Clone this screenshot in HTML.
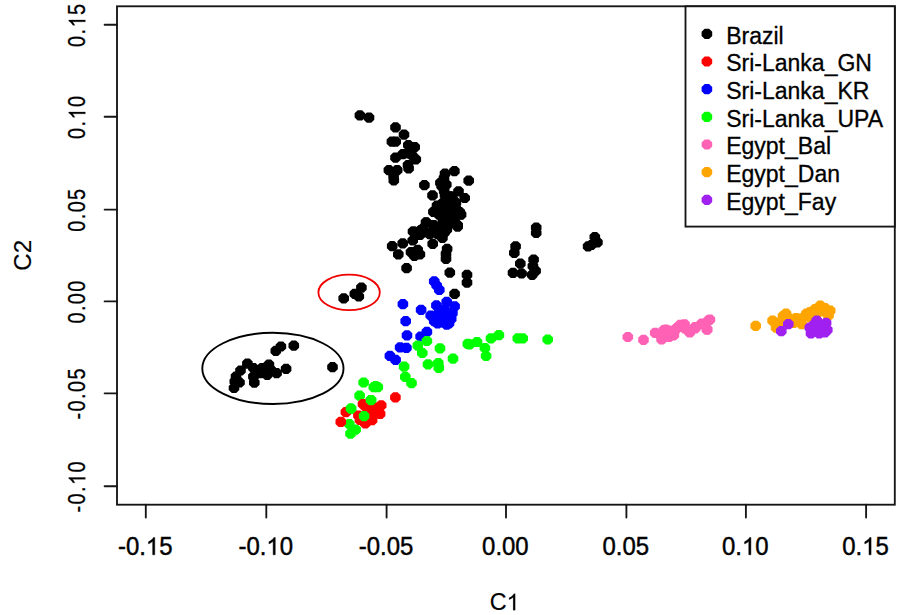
<!DOCTYPE html>
<html><head><meta charset="utf-8"><style>
html,body{margin:0;padding:0;background:#fff;}
svg{display:block;}
.t{font-family:"Liberation Sans",sans-serif;font-size:25.2px;fill:#000;stroke:#000;stroke-width:0.45px;}
.ty{font-family:"Liberation Sans",sans-serif;font-size:24px;fill:#000;stroke:#000;stroke-width:0.3px;}
.c{font-family:"Liberation Sans",sans-serif;font-size:24px;fill:#000;stroke:#000;stroke-width:0.15px;}
.l{font-family:"Liberation Sans",sans-serif;font-size:23px;fill:#000;stroke:#000;stroke-width:0.3px;}
</style></head><body>
<svg width="902" height="615" viewBox="0 0 902 615">
<defs><path id="o" d="M-2.2,-5.1L2.2,-5.1L5.3,-2.1L5.3,2.1L2.2,5.1L-2.2,5.1L-5.3,2.1L-5.3,-2.1Z"/></defs>
<rect width="902" height="615" fill="#fff"/>
<rect x="117" y="6.3" width="777.8" height="498.4" fill="none" stroke="#151515" stroke-width="1.85"/>
<line x1="145.8" y1="504.7" x2="145.8" y2="517.6" stroke="#151515" stroke-width="1.85" stroke-linecap="round"/>
<text class="t" transform="translate(145.2 554.8) scale(0.95 1)" x="0" y="0" text-anchor="middle">-0.<tspan style="fill:none;stroke:none">1</tspan>5</text><path transform="translate(145.2 554.8) scale(0.95 1) translate(0.689 0) scale(0.01230 -0.01230)" d="M763,0L583,0L583,1098Q518,1038 412,979Q307,920 223,890L223,1057Q374,1125 487,1221Q600,1318 647,1409L763,1409Z" fill="#000" stroke="#000" stroke-width="36.6"/>
<line x1="266.3" y1="504.7" x2="266.3" y2="517.6" stroke="#151515" stroke-width="1.85" stroke-linecap="round"/>
<text class="t" transform="translate(265.7 554.8) scale(0.95 1)" x="0" y="0" text-anchor="middle">-0.<tspan style="fill:none;stroke:none">1</tspan>0</text><path transform="translate(265.7 554.8) scale(0.95 1) translate(0.689 0) scale(0.01230 -0.01230)" d="M763,0L583,0L583,1098Q518,1038 412,979Q307,920 223,890L223,1057Q374,1125 487,1221Q600,1318 647,1409L763,1409Z" fill="#000" stroke="#000" stroke-width="36.6"/>
<line x1="386.6" y1="504.7" x2="386.6" y2="517.6" stroke="#151515" stroke-width="1.85" stroke-linecap="round"/>
<text class="t" transform="translate(386.0 554.8) scale(0.95 1)" x="0" y="0" text-anchor="middle">-0.05</text>
<line x1="506.0" y1="504.7" x2="506.0" y2="517.6" stroke="#151515" stroke-width="1.85" stroke-linecap="round"/>
<text class="t" transform="translate(505.4 554.8) scale(0.95 1)" x="0" y="0" text-anchor="middle">0.00</text>
<line x1="626.4" y1="504.7" x2="626.4" y2="517.6" stroke="#151515" stroke-width="1.85" stroke-linecap="round"/>
<text class="t" transform="translate(625.8 554.8) scale(0.95 1)" x="0" y="0" text-anchor="middle">0.05</text>
<line x1="745.9" y1="504.7" x2="745.9" y2="517.6" stroke="#151515" stroke-width="1.85" stroke-linecap="round"/>
<text class="t" transform="translate(745.3 554.8) scale(0.95 1)" x="0" y="0" text-anchor="middle">0.<tspan style="fill:none;stroke:none">1</tspan>0</text><path transform="translate(745.3 554.8) scale(0.95 1) translate(-3.507 0) scale(0.01230 -0.01230)" d="M763,0L583,0L583,1098Q518,1038 412,979Q307,920 223,890L223,1057Q374,1125 487,1221Q600,1318 647,1409L763,1409Z" fill="#000" stroke="#000" stroke-width="36.6"/>
<line x1="866.1" y1="504.7" x2="866.1" y2="517.6" stroke="#151515" stroke-width="1.85" stroke-linecap="round"/>
<text class="t" transform="translate(865.5 554.8) scale(0.95 1)" x="0" y="0" text-anchor="middle">0.<tspan style="fill:none;stroke:none">1</tspan>5</text><path transform="translate(865.5 554.8) scale(0.95 1) translate(-3.507 0) scale(0.01230 -0.01230)" d="M763,0L583,0L583,1098Q518,1038 412,979Q307,920 223,890L223,1057Q374,1125 487,1221Q600,1318 647,1409L763,1409Z" fill="#000" stroke="#000" stroke-width="36.6"/>
<line x1="104.6" y1="24.7" x2="117" y2="24.7" stroke="#151515" stroke-width="1.85" stroke-linecap="round"/>
<text class="ty" transform="translate(85.3 24.7) rotate(-90) scale(0.83 1)" x="0" y="0" text-anchor="middle" letter-spacing="1.7">0.<tspan style="fill:none;stroke:none">1</tspan>5</text><path transform="translate(85.3 24.7) rotate(-90) scale(0.83 1) translate(-3.340 0) scale(0.01172 -0.01172)" d="M763,0L583,0L583,1098Q518,1038 412,979Q307,920 223,890L223,1057Q374,1125 487,1221Q600,1318 647,1409L763,1409Z" fill="#000" stroke="#000" stroke-width="25.6"/>
<line x1="104.6" y1="116.7" x2="117" y2="116.7" stroke="#151515" stroke-width="1.85" stroke-linecap="round"/>
<text class="ty" transform="translate(85.3 116.7) rotate(-90) scale(0.83 1)" x="0" y="0" text-anchor="middle" letter-spacing="1.7">0.<tspan style="fill:none;stroke:none">1</tspan>0</text><path transform="translate(85.3 116.7) rotate(-90) scale(0.83 1) translate(-3.340 0) scale(0.01172 -0.01172)" d="M763,0L583,0L583,1098Q518,1038 412,979Q307,920 223,890L223,1057Q374,1125 487,1221Q600,1318 647,1409L763,1409Z" fill="#000" stroke="#000" stroke-width="25.6"/>
<line x1="104.6" y1="209.6" x2="117" y2="209.6" stroke="#151515" stroke-width="1.85" stroke-linecap="round"/>
<text class="ty" transform="translate(85.3 209.6) rotate(-90) scale(0.83 1)" x="0" y="0" text-anchor="middle" letter-spacing="1.7">0.05</text>
<line x1="104.6" y1="301.4" x2="117" y2="301.4" stroke="#151515" stroke-width="1.85" stroke-linecap="round"/>
<text class="ty" transform="translate(85.3 301.4) rotate(-90) scale(0.83 1)" x="0" y="0" text-anchor="middle" letter-spacing="1.7">0.00</text>
<line x1="104.6" y1="393.3" x2="117" y2="393.3" stroke="#151515" stroke-width="1.85" stroke-linecap="round"/>
<text class="ty" transform="translate(85.3 393.3) rotate(-90) scale(0.83 1)" x="0" y="0" text-anchor="middle" letter-spacing="1.7">-0.05</text>
<line x1="104.6" y1="486.2" x2="117" y2="486.2" stroke="#151515" stroke-width="1.85" stroke-linecap="round"/>
<text class="ty" transform="translate(85.3 486.2) rotate(-90) scale(0.83 1)" x="0" y="0" text-anchor="middle" letter-spacing="1.7">-0.<tspan style="fill:none;stroke:none">1</tspan>0</text><path transform="translate(85.3 486.2) rotate(-90) scale(0.83 1) translate(1.506 0) scale(0.01172 -0.01172)" d="M763,0L583,0L583,1098Q518,1038 412,979Q307,920 223,890L223,1057Q374,1125 487,1221Q600,1318 647,1409L763,1409Z" fill="#000" stroke="#000" stroke-width="25.6"/>
<text class="c" transform="translate(504.6 610.2) scale(0.97 1)" x="0" y="0" text-anchor="middle">C<tspan style="fill:none;stroke:none">1</tspan></text><path transform="translate(504.6 610.2) scale(0.97 1) translate(1.992 0) scale(0.01172 -0.01172)" d="M763,0L583,0L583,1098Q518,1038 412,979Q307,920 223,890L223,1057Q374,1125 487,1221Q600,1318 647,1409L763,1409Z" fill="#000" stroke="#000" stroke-width="12.8"/>
<text class="c" transform="translate(30.8 255.3) rotate(-90)" x="0" y="0" text-anchor="middle">C2</text>
<ellipse cx="349.1" cy="292.4" rx="30.7" ry="17.7" fill="none" stroke="#f00000" stroke-width="1.8"/>
<ellipse cx="272.9" cy="368.4" rx="70.6" ry="35.6" fill="none" stroke="#000" stroke-width="1.9"/>
<use href="#o" x="359.9" y="115.4" fill="#000000"/><use href="#o" x="369.0" y="117.6" fill="#000000"/><use href="#o" x="395.5" y="127.3" fill="#000000"/><use href="#o" x="404.0" y="134.7" fill="#000000"/><use href="#o" x="391.9" y="141.6" fill="#000000"/><use href="#o" x="395.7" y="141.6" fill="#000000"/><use href="#o" x="408.3" y="145.1" fill="#000000"/><use href="#o" x="414.7" y="147.1" fill="#000000"/><use href="#o" x="402.9" y="154.2" fill="#000000"/><use href="#o" x="395.5" y="157.6" fill="#000000"/><use href="#o" x="408.8" y="153.4" fill="#000000"/><use href="#o" x="415.8" y="159.3" fill="#000000"/><use href="#o" x="412.2" y="155.5" fill="#000000"/><use href="#o" x="408.0" y="165.0" fill="#000000"/><use href="#o" x="408.6" y="168.4" fill="#000000"/><use href="#o" x="388.9" y="170.1" fill="#000000"/><use href="#o" x="397.2" y="170.1" fill="#000000"/><use href="#o" x="393.8" y="180.4" fill="#000000"/><use href="#o" x="393.6" y="175.8" fill="#000000"/><use href="#o" x="424.4" y="185.2" fill="#000000"/><use href="#o" x="454.4" y="171.1" fill="#000000"/><use href="#o" x="445.0" y="173.7" fill="#000000"/><use href="#o" x="444.0" y="178.2" fill="#000000"/><use href="#o" x="440.4" y="182.8" fill="#000000"/><use href="#o" x="443.0" y="187.3" fill="#000000"/><use href="#o" x="446.3" y="184.7" fill="#000000"/><use href="#o" x="468.7" y="180.6" fill="#000000"/><use href="#o" x="441.6" y="186.0" fill="#000000"/><use href="#o" x="444.2" y="191.2" fill="#000000"/><use href="#o" x="446.8" y="196.4" fill="#000000"/><use href="#o" x="452.0" y="196.4" fill="#000000"/><use href="#o" x="449.5" y="196.4" fill="#000000"/><use href="#o" x="445.0" y="195.1" fill="#000000"/><use href="#o" x="449.4" y="202.9" fill="#000000"/><use href="#o" x="455.9" y="202.9" fill="#000000"/><use href="#o" x="442.9" y="202.9" fill="#000000"/><use href="#o" x="444.2" y="209.4" fill="#000000"/><use href="#o" x="452.0" y="209.4" fill="#000000"/><use href="#o" x="459.8" y="212.0" fill="#000000"/><use href="#o" x="439.0" y="214.6" fill="#000000"/><use href="#o" x="446.8" y="215.9" fill="#000000"/><use href="#o" x="454.6" y="217.2" fill="#000000"/><use href="#o" x="461.1" y="214.6" fill="#000000"/><use href="#o" x="442.9" y="221.1" fill="#000000"/><use href="#o" x="450.7" y="222.4" fill="#000000"/><use href="#o" x="457.2" y="225.0" fill="#000000"/><use href="#o" x="426.0" y="222.4" fill="#000000"/><use href="#o" x="433.8" y="225.0" fill="#000000"/><use href="#o" x="439.0" y="227.6" fill="#000000"/><use href="#o" x="446.8" y="227.6" fill="#000000"/><use href="#o" x="413.0" y="231.5" fill="#000000"/><use href="#o" x="420.8" y="230.2" fill="#000000"/><use href="#o" x="428.6" y="232.8" fill="#000000"/><use href="#o" x="437.7" y="234.1" fill="#000000"/><use href="#o" x="444.2" y="232.8" fill="#000000"/><use href="#o" x="432.5" y="195.3" fill="#000000"/><use href="#o" x="458.5" y="191.3" fill="#000000"/><use href="#o" x="464.7" y="198.0" fill="#000000"/><use href="#o" x="437.0" y="205.6" fill="#000000"/><use href="#o" x="433.4" y="211.8" fill="#000000"/><use href="#o" x="446.8" y="198.4" fill="#000000"/><use href="#o" x="453.1" y="200.2" fill="#000000"/><use href="#o" x="460.3" y="214.5" fill="#000000"/><use href="#o" x="455.8" y="208.3" fill="#000000"/><use href="#o" x="448.6" y="207.4" fill="#000000"/><use href="#o" x="445.0" y="214.5" fill="#000000"/><use href="#o" x="452.2" y="220.8" fill="#000000"/><use href="#o" x="457.6" y="225.3" fill="#000000"/><use href="#o" x="426.3" y="222.6" fill="#000000"/><use href="#o" x="422.7" y="228.8" fill="#000000"/><use href="#o" x="434.3" y="227.0" fill="#000000"/><use href="#o" x="441.5" y="231.5" fill="#000000"/><use href="#o" x="446.8" y="229.7" fill="#000000"/><use href="#o" x="429.8" y="234.2" fill="#000000"/><use href="#o" x="442.4" y="237.8" fill="#000000"/><use href="#o" x="420.0" y="235.0" fill="#000000"/><use href="#o" x="413.8" y="231.7" fill="#000000"/><use href="#o" x="412.7" y="240.5" fill="#000000"/><use href="#o" x="392.2" y="246.1" fill="#000000"/><use href="#o" x="402.7" y="243.3" fill="#000000"/><use href="#o" x="398.3" y="254.4" fill="#000000"/><use href="#o" x="411.0" y="252.2" fill="#000000"/><use href="#o" x="417.7" y="249.9" fill="#000000"/><use href="#o" x="419.9" y="254.4" fill="#000000"/><use href="#o" x="414.4" y="256.0" fill="#000000"/><use href="#o" x="432.7" y="243.8" fill="#000000"/><use href="#o" x="447.1" y="248.8" fill="#000000"/><use href="#o" x="446.0" y="253.8" fill="#000000"/><use href="#o" x="446.0" y="258.8" fill="#000000"/><use href="#o" x="406.6" y="268.2" fill="#000000"/><use href="#o" x="449.8" y="272.7" fill="#000000"/><use href="#o" x="467.0" y="274.9" fill="#000000"/><use href="#o" x="467.0" y="282.6" fill="#000000"/><use href="#o" x="424.3" y="231.7" fill="#000000"/><use href="#o" x="457.6" y="226.7" fill="#000000"/><use href="#o" x="454.6" y="293.9" fill="#000000"/><use href="#o" x="536.2" y="227.6" fill="#000000"/><use href="#o" x="536.2" y="233.0" fill="#000000"/><use href="#o" x="515.6" y="246.3" fill="#000000"/><use href="#o" x="514.3" y="252.9" fill="#000000"/><use href="#o" x="520.3" y="263.6" fill="#000000"/><use href="#o" x="533.6" y="259.6" fill="#000000"/><use href="#o" x="532.9" y="266.2" fill="#000000"/><use href="#o" x="513.0" y="272.9" fill="#000000"/><use href="#o" x="521.6" y="273.5" fill="#000000"/><use href="#o" x="532.2" y="274.9" fill="#000000"/><use href="#o" x="535.6" y="270.9" fill="#000000"/><use href="#o" x="594.8" y="237.0" fill="#000000"/><use href="#o" x="597.4" y="242.3" fill="#000000"/><use href="#o" x="588.1" y="246.3" fill="#000000"/><use href="#o" x="591.4" y="245.0" fill="#000000"/><use href="#o" x="343.7" y="298.3" fill="#000000"/><use href="#o" x="354.8" y="293.8" fill="#000000"/><use href="#o" x="358.8" y="296.5" fill="#000000"/><use href="#o" x="361.4" y="287.6" fill="#000000"/><use href="#o" x="275.8" y="350.8" fill="#000000"/><use href="#o" x="280.9" y="346.5" fill="#000000"/><use href="#o" x="293.8" y="345.6" fill="#000000"/><use href="#o" x="332.5" y="367.1" fill="#000000"/><use href="#o" x="286.1" y="368.8" fill="#000000"/><use href="#o" x="276.6" y="373.1" fill="#000000"/><use href="#o" x="247.4" y="363.7" fill="#000000"/><use href="#o" x="240.5" y="370.5" fill="#000000"/><use href="#o" x="236.0" y="376.5" fill="#000000"/><use href="#o" x="234.8" y="381.5" fill="#000000"/><use href="#o" x="234.0" y="388.0" fill="#000000"/><use href="#o" x="239.5" y="382.5" fill="#000000"/><use href="#o" x="253.4" y="368.0" fill="#000000"/><use href="#o" x="253.4" y="376.6" fill="#000000"/><use href="#o" x="254.3" y="382.6" fill="#000000"/><use href="#o" x="262.0" y="368.0" fill="#000000"/><use href="#o" x="268.9" y="364.5" fill="#000000"/><use href="#o" x="267.2" y="374.8" fill="#000000"/><use href="#o" x="260.3" y="373.1" fill="#000000"/><use href="#o" x="270.6" y="369.7" fill="#000000"/><use href="#o" x="434.2" y="281.4" fill="#0000ff"/><use href="#o" x="439.3" y="289.9" fill="#0000ff"/><use href="#o" x="436.7" y="285.5" fill="#0000ff"/><use href="#o" x="402.9" y="304.1" fill="#0000ff"/><use href="#o" x="421.1" y="309.8" fill="#0000ff"/><use href="#o" x="405.7" y="321.2" fill="#0000ff"/><use href="#o" x="407.0" y="335.4" fill="#0000ff"/><use href="#o" x="426.9" y="331.9" fill="#0000ff"/><use href="#o" x="420.6" y="336.5" fill="#0000ff"/><use href="#o" x="436.4" y="305.3" fill="#0000ff"/><use href="#o" x="446.7" y="301.9" fill="#0000ff"/><use href="#o" x="454.6" y="306.4" fill="#0000ff"/><use href="#o" x="430.7" y="315.5" fill="#0000ff"/><use href="#o" x="438.7" y="313.2" fill="#0000ff"/><use href="#o" x="445.5" y="311.0" fill="#0000ff"/><use href="#o" x="434.2" y="321.2" fill="#0000ff"/><use href="#o" x="443.3" y="322.3" fill="#0000ff"/><use href="#o" x="451.2" y="318.9" fill="#0000ff"/><use href="#o" x="446.7" y="324.6" fill="#0000ff"/><use href="#o" x="443.3" y="315.5" fill="#0000ff"/><use href="#o" x="438.7" y="318.9" fill="#0000ff"/><use href="#o" x="447.8" y="315.5" fill="#0000ff"/><use href="#o" x="441.0" y="309.8" fill="#0000ff"/><use href="#o" x="452.4" y="313.2" fill="#0000ff"/><use href="#o" x="437.6" y="323.5" fill="#0000ff"/><use href="#o" x="449.0" y="323.5" fill="#0000ff"/><use href="#o" x="400.1" y="347.3" fill="#0000ff"/><use href="#o" x="406.4" y="347.9" fill="#0000ff"/><use href="#o" x="389.9" y="355.8" fill="#0000ff"/><use href="#o" x="395.6" y="359.8" fill="#0000ff"/><use href="#o" x="426.9" y="341.0" fill="#00ff00"/><use href="#o" x="417.8" y="345.6" fill="#00ff00"/><use href="#o" x="422.3" y="353.0" fill="#00ff00"/><use href="#o" x="440.0" y="348.4" fill="#00ff00"/><use href="#o" x="467.8" y="343.9" fill="#00ff00"/><use href="#o" x="453.0" y="358.7" fill="#00ff00"/><use href="#o" x="428.0" y="364.4" fill="#00ff00"/><use href="#o" x="438.3" y="363.2" fill="#00ff00"/><use href="#o" x="438.8" y="367.8" fill="#00ff00"/><use href="#o" x="404.1" y="366.6" fill="#00ff00"/><use href="#o" x="405.3" y="376.9" fill="#00ff00"/><use href="#o" x="411.5" y="383.1" fill="#00ff00"/><use href="#o" x="375.7" y="386.0" fill="#00ff00"/><use href="#o" x="469.6" y="344.4" fill="#00ff00"/><use href="#o" x="477.0" y="342.0" fill="#00ff00"/><use href="#o" x="484.9" y="348.0" fill="#00ff00"/><use href="#o" x="486.1" y="356.0" fill="#00ff00"/><use href="#o" x="491.0" y="338.3" fill="#00ff00"/><use href="#o" x="498.9" y="335.2" fill="#00ff00"/><use href="#o" x="517.8" y="338.3" fill="#00ff00"/><use href="#o" x="522.7" y="338.3" fill="#00ff00"/><use href="#o" x="547.7" y="339.5" fill="#00ff00"/><use href="#o" x="363.6" y="382.5" fill="#00ff00"/><use href="#o" x="373.8" y="387.1" fill="#00ff00"/><use href="#o" x="377.8" y="387.1" fill="#00ff00"/><use href="#o" x="359.6" y="395.6" fill="#00ff00"/><use href="#o" x="371.0" y="400.1" fill="#00ff00"/><use href="#o" x="351.0" y="408.7" fill="#00ff00"/><use href="#o" x="364.1" y="416.1" fill="#00ff00"/><use href="#o" x="349.3" y="424.0" fill="#00ff00"/><use href="#o" x="355.6" y="429.7" fill="#00ff00"/><use href="#o" x="350.5" y="433.7" fill="#00ff00"/><use href="#o" x="395.4" y="397.3" fill="#ff0000"/><use href="#o" x="340.8" y="421.8" fill="#ff0000"/><use href="#o" x="345.9" y="412.1" fill="#ff0000"/><use href="#o" x="363.0" y="404.1" fill="#ff0000"/><use href="#o" x="381.2" y="405.3" fill="#ff0000"/><use href="#o" x="380.1" y="413.8" fill="#ff0000"/><use href="#o" x="358.4" y="415.5" fill="#ff0000"/><use href="#o" x="365.3" y="423.5" fill="#ff0000"/><use href="#o" x="372.1" y="420.1" fill="#ff0000"/><use href="#o" x="373.2" y="412.1" fill="#ff0000"/><use href="#o" x="366.4" y="407.5" fill="#ff0000"/><use href="#o" x="375.5" y="407.5" fill="#ff0000"/><use href="#o" x="360.0" y="420.0" fill="#ff0000"/><use href="#o" x="368.0" y="415.0" fill="#ff0000"/><use href="#o" x="364.1" y="416.1" fill="#00ff00"/><use href="#o" x="351.0" y="408.7" fill="#00ff00"/><use href="#o" x="371.0" y="400.1" fill="#00ff00"/><use href="#o" x="627.8" y="337.0" fill="#ff62b4"/><use href="#o" x="643.5" y="339.9" fill="#ff62b4"/><use href="#o" x="655.2" y="332.9" fill="#ff62b4"/><use href="#o" x="661.6" y="339.3" fill="#ff62b4"/><use href="#o" x="663.9" y="330.0" fill="#ff62b4"/><use href="#o" x="668.6" y="330.6" fill="#ff62b4"/><use href="#o" x="673.2" y="335.3" fill="#ff62b4"/><use href="#o" x="680.2" y="324.8" fill="#ff62b4"/><use href="#o" x="684.8" y="328.3" fill="#ff62b4"/><use href="#o" x="689.5" y="331.8" fill="#ff62b4"/><use href="#o" x="701.7" y="323.6" fill="#ff62b4"/><use href="#o" x="707.0" y="329.4" fill="#ff62b4"/><use href="#o" x="709.9" y="319.6" fill="#ff62b4"/><use href="#o" x="676.7" y="328.3" fill="#ff62b4"/><use href="#o" x="695.0" y="327.0" fill="#ff62b4"/><use href="#o" x="665.9" y="329.6" fill="#ff62b4"/><use href="#o" x="673.9" y="334.9" fill="#ff62b4"/><use href="#o" x="684.5" y="324.3" fill="#ff62b4"/><use href="#o" x="689.8" y="332.3" fill="#ff62b4"/><use href="#o" x="695.2" y="328.3" fill="#ff62b4"/><use href="#o" x="676.5" y="328.3" fill="#ff62b4"/><use href="#o" x="703.1" y="324.3" fill="#ff62b4"/><use href="#o" x="708.5" y="320.3" fill="#ff62b4"/><use href="#o" x="707.1" y="329.6" fill="#ff62b4"/><use href="#o" x="659.0" y="334.0" fill="#ff62b4"/><use href="#o" x="669.0" y="337.0" fill="#ff62b4"/><use href="#o" x="755.7" y="325.8" fill="#ffa500"/><use href="#o" x="772.6" y="320.6" fill="#ffa500"/><use href="#o" x="778.4" y="322.9" fill="#ffa500"/><use href="#o" x="786.0" y="313.6" fill="#ffa500"/><use href="#o" x="788.9" y="318.3" fill="#ffa500"/><use href="#o" x="776.1" y="327.6" fill="#ffa500"/><use href="#o" x="793.6" y="322.9" fill="#ffa500"/><use href="#o" x="801.7" y="318.3" fill="#ffa500"/><use href="#o" x="806.4" y="313.6" fill="#ffa500"/><use href="#o" x="809.8" y="317.1" fill="#ffa500"/><use href="#o" x="815.7" y="316.0" fill="#ffa500"/><use href="#o" x="796.0" y="318.0" fill="#ffa500"/><use href="#o" x="790.0" y="322.0" fill="#ffa500"/><use href="#o" x="810.0" y="312.0" fill="#ffa500"/><use href="#o" x="815.0" y="309.0" fill="#ffa500"/><use href="#o" x="825.0" y="308.0" fill="#ffa500"/><use href="#o" x="783.0" y="316.0" fill="#ffa500"/><use href="#o" x="812.2" y="312.5" fill="#ffa500"/><use href="#o" x="820.3" y="305.5" fill="#ffa500"/><use href="#o" x="821.5" y="311.3" fill="#ffa500"/><use href="#o" x="830.2" y="310.7" fill="#ffa500"/><use href="#o" x="828.5" y="315.4" fill="#ffa500"/><use href="#o" x="801.7" y="324.1" fill="#ffa500"/><use href="#o" x="788.3" y="324.1" fill="#a020f0"/><use href="#o" x="781.3" y="331.1" fill="#a020f0"/><use href="#o" x="809.8" y="327.6" fill="#a020f0"/><use href="#o" x="814.5" y="324.1" fill="#a020f0"/><use href="#o" x="816.8" y="320.6" fill="#a020f0"/><use href="#o" x="826.1" y="322.9" fill="#a020f0"/><use href="#o" x="827.3" y="329.9" fill="#a020f0"/><use href="#o" x="811.0" y="333.4" fill="#a020f0"/><use href="#o" x="819.2" y="333.4" fill="#a020f0"/><use href="#o" x="825.0" y="332.3" fill="#a020f0"/><use href="#o" x="820.3" y="326.4" fill="#a020f0"/><use href="#o" x="815.7" y="328.8" fill="#a020f0"/>
<rect x="685.5" y="6.3" width="209.3" height="220.3" fill="#fff" stroke="#151515" stroke-width="1.85"/>
<use href="#o" x="706.9" y="33.8" fill="#000000"/>
<text class="l" transform="translate(726.2 43.7)" x="0" y="0">Brazil</text>
<use href="#o" x="706.9" y="61.5" fill="#ff0000"/>
<text class="l" transform="translate(726.2 71.4)" x="0" y="0">Sri-Lanka_GN</text>
<use href="#o" x="706.9" y="89.1" fill="#0000ff"/>
<text class="l" transform="translate(726.2 99.0)" x="0" y="0">Sri-Lanka_KR</text>
<use href="#o" x="706.9" y="116.8" fill="#00ff00"/>
<text class="l" transform="translate(726.2 126.7)" x="0" y="0">Sri-Lanka_UPA</text>
<use href="#o" x="706.9" y="144.5" fill="#ff62b4"/>
<text class="l" transform="translate(726.2 154.4)" x="0" y="0">Egypt_Bal</text>
<use href="#o" x="706.9" y="172.2" fill="#ffa500"/>
<text class="l" transform="translate(726.2 182.1)" x="0" y="0">Egypt_Dan</text>
<use href="#o" x="706.9" y="199.8" fill="#a020f0"/>
<text class="l" transform="translate(726.2 209.7)" x="0" y="0">Egypt_Fay</text>
</svg></body></html>
